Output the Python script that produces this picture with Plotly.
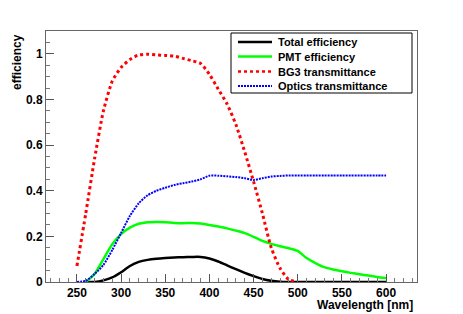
import plotly.graph_objects as go

wavelength = [250, 260, 270, 280, 290, 300, 310, 320, 330, 340, 350, 360, 370, 380,
              390, 400, 410, 420, 430, 440, 450, 460, 470, 480, 490, 500, 510, 520,
              530, 540, 550, 560, 570, 580, 590, 600]

total_eff = [None, 0.0, 0.0, 0.007, 0.02, 0.043, 0.07, 0.088, 0.097, 0.102, 0.105, 0.107,
             0.109, 0.11, 0.11, 0.103, 0.09, 0.073, 0.056, 0.04, 0.026, 0.013, 0.005,
             0.001, 0.0, 0.0, 0.0, 0.0, 0.0, 0.0, 0.0, 0.0, 0.0, 0.0, 0.0, 0.0]

pmt_eff = [None, 0.0, 0.035, 0.10, 0.165, 0.21, 0.238, 0.255, 0.262, 0.263, 0.262, 0.259,
           0.258, 0.259, 0.256, 0.25, 0.243, 0.235, 0.225, 0.214, 0.198, 0.18, 0.167,
           0.157, 0.148, 0.136, 0.105, 0.083, 0.065, 0.055, 0.047, 0.04, 0.034, 0.028,
           0.022, 0.017]

bg3_trans = [0.07, 0.30, 0.54, 0.75, 0.88, 0.94, 0.975, 0.995, 0.998, 0.995, 0.993, 0.99,
             0.98, 0.97, 0.958, 0.91, 0.845, 0.78, 0.69, 0.57, 0.44, 0.30, 0.15, 0.06,
             0.01, 0.0, None, None, None, None, None, None, None, None, None, None]

optics_trans = [0.0, 0.005, 0.035, 0.075, 0.14, 0.215, 0.29, 0.345, 0.38, 0.40, 0.413,
                0.425, 0.433, 0.44, 0.45, 0.466, 0.466, 0.463, 0.46, 0.455, 0.447, 0.455,
                0.462, 0.465, 0.467, 0.467, 0.467, 0.467, 0.467, 0.467, 0.467, 0.467,
                0.467, 0.467, 0.467, 0.467]

series_names = ["Total efficiency", "PMT efficiency", "BG3 transmittance", "Optics transmittance"]

FONT = "Liberation Sans, Arial, Helvetica, sans-serif"

W, H = 463, 314
ML, MR, MT, MB = 46, 46, 31, 32
PW, PH = W - ML - MR, H - MT - MB


def px_x(x):
    return (x - ML) / PW


def px_y(y):
    return (H - MB - y) / PH


styles = [
    dict(color="#000000", width=2.5),
    dict(color="#00ff00", width=2.5),
    dict(color="#ff0000", width=3, dash="3px,3px"),
    dict(color="#0000ff", width=2, dash="2px,1px"),
]

fig = go.Figure()
for name, vals, line in zip(series_names, [total_eff, pmt_eff, bg3_trans, optics_trans], styles):
    fig.add_trace(go.Scatter(x=wavelength, y=vals, name=name, mode="lines",
                             line=dict(shape="spline", smoothing=0.6, **line),
                             connectgaps=False, showlegend=False, hoverinfo="skip"))

axis_common = dict(showline=True, linecolor="#666", linewidth=1, mirror=True,
                   ticks="inside", tickcolor="#555", showgrid=False, zeroline=False,
                   automargin=False,
                   tickfont=dict(family=FONT, size=12, color="#000", weight="bold"))

fig.update_xaxes(range=[215, 635], dtick=50, tick0=250, ticklen=8,
                 minor=dict(dtick=10, tick0=250, ticklen=4, ticks="inside", tickcolor="#777"),
                 **axis_common)
fig.update_yaxes(range=[0, 1.1], dtick=0.2, tick0=0, ticklen=8,
                 minor=dict(dtick=0.05, tick0=0, ticklen=4, ticks="inside", tickcolor="#777"),
                 **axis_common)

# manual legend (ROOT-style compact box)
shapes = [dict(type="rect", xref="paper", yref="paper",
               x0=px_x(231), x1=px_x(412), y0=px_y(93), y1=px_y(33),
               line=dict(color="#000", width=1), fillcolor="white", layer="above")]
annotations = []
row_y = [42, 56.5, 71.5, 86]
for name, line, ry in zip(series_names, styles, row_y):
    shapes.append(dict(type="line", xref="paper", yref="paper",
                       x0=px_x(238), x1=px_x(272), y0=px_y(ry), y1=px_y(ry),
                       line=dict(color=line["color"], width=line["width"] if line["width"] < 3 else 2.5,
                                 dash=line.get("dash", "solid")),
                       layer="above"))
    annotations.append(dict(text=name, xref="paper", yref="paper", x=px_x(276), y=px_y(ry),
                            xanchor="left", yanchor="middle", showarrow=False,
                            font=dict(family=FONT, size=11, color="#000", weight="bold")))

annotations += [
    dict(text="efficiency", xref="paper", yref="paper", x=px_x(17), y=px_y(32),
         xanchor="center", yanchor="top", textangle=-90, showarrow=False,
         font=dict(family=FONT, size=12, color="#000", weight="bold")),
    dict(text="Wavelength [nm]", xref="paper", yref="paper", x=px_x(414), y=px_y(305),
         xanchor="right", yanchor="middle", showarrow=False, borderpad=0,
         font=dict(family=FONT, size=12, color="#000", weight="bold")),
]

fig.update_layout(
    width=W, height=H,
    margin=dict(l=ML, r=MR, t=MT, b=MB, autoexpand=False),
    paper_bgcolor="white", plot_bgcolor="white",
    font=dict(family=FONT, size=12, color="#000"),
    showlegend=False,
    hovermode=False,
    shapes=shapes,
    annotations=annotations,
)

fig.write_html("out.html", config={"displayModeBar": False, "staticPlot": True},
               post_script="document.body.style.margin='0';document.body.style.overflow='hidden';")
